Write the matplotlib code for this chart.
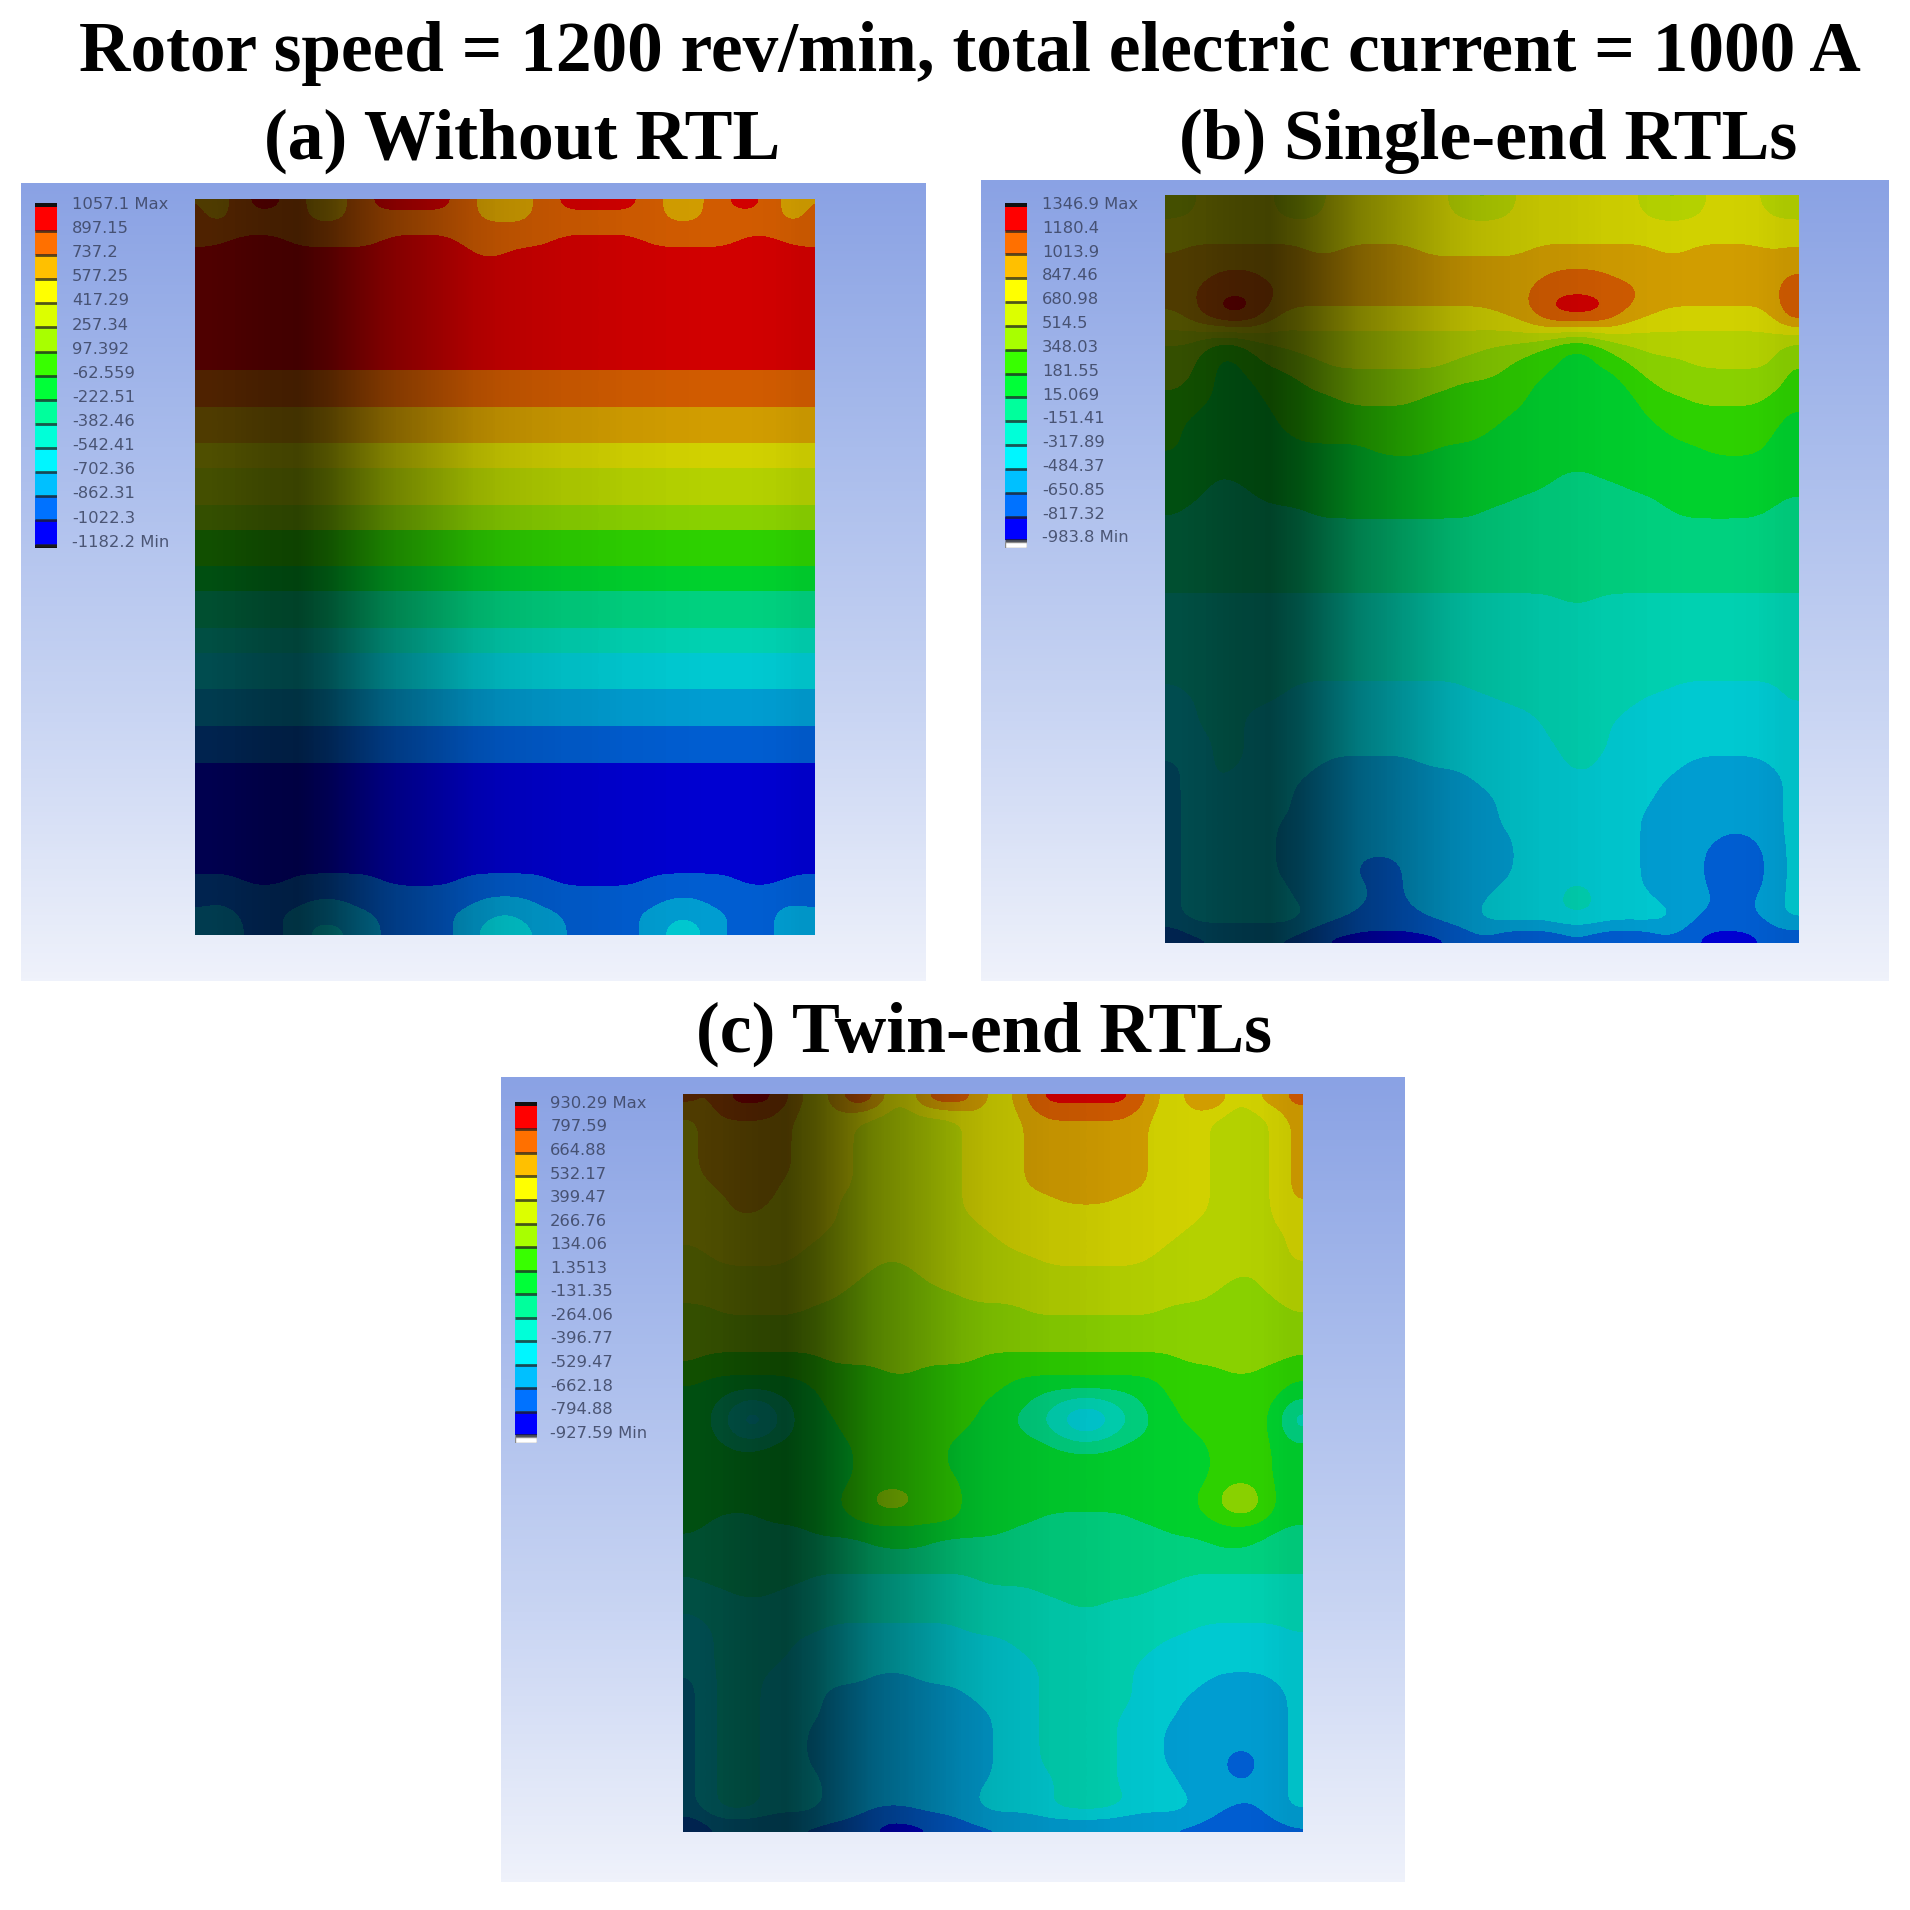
import numpy as np
import matplotlib
matplotlib.use("Agg")
import matplotlib.pyplot as plt
from matplotlib.colors import ListedColormap, BoundaryNorm, LinearSegmentedColormap

main_title = "Rotor speed = 1200 rev/min, total electric current = 1000 A"
titles = ["(a) Without RTL", "(b) Single-end RTLs", "(c) Twin-end RTLs"]

labels_a = ["1057.1 Max", "897.15", "737.2", "577.25", "417.29", "257.34", "97.392", "-62.559",
            "-222.51", "-382.46", "-542.41", "-702.36", "-862.31", "-1022.3", "-1182.2 Min"]
labels_b = ["1346.9 Max", "1180.4", "1013.9", "847.46", "680.98", "514.5", "348.03", "181.55",
            "15.069", "-151.41", "-317.89", "-484.37", "-650.85", "-817.32", "-983.8 Min"]
labels_c = ["930.29 Max", "797.59", "664.88", "532.17", "399.47", "266.76", "134.06", "1.3513",
            "-131.35", "-264.06", "-396.77", "-529.47", "-662.18", "-794.88", "-927.59 Min"]
levels_a = [1057.1, 897.15, 737.2, 577.25, 417.29, 257.34, 97.392, -62.559,
            -222.51, -382.46, -542.41, -702.36, -862.31, -1022.3, -1182.2]
levels_b = [1346.9, 1180.4, 1013.9, 847.46, 680.98, 514.5, 348.03, 181.55,
            15.069, -151.41, -317.89, -484.37, -650.85, -817.32, -983.8]
levels_c = [930.29, 797.59, 664.88, 532.17, 399.47, 266.76, 134.06, 1.3513,
            -131.35, -264.06, -396.77, -529.47, -662.18, -794.88, -927.59]

# colours from lowest band to highest band
band_colors = ["#0000ff", "#0072ff", "#00c0ff", "#00f6ff", "#00ffd8", "#00ff9c", "#00ff38",
               "#38ff00", "#a8ff00", "#dcff00", "#ffff00", "#ffc000", "#ff7000", "#ff0000"]

# brightness of the surface across its width
surface_light = [.31, .29, .27, .26, .32, .41, .50, .56, .62, .68, .72, .74, .76, .77, .79, .80,
                 .81, .82, .82, .81, .78]

# Band read at each cell, row by row from the top: band character + run length (0-9,a,b,c,d = low..high)
rows_a = (["c a c d3 c b3 c d6 c b4 c d6 c b3 c d3 c a c",
           "c a c5 b3 c8 b4 c8 b3 c5 a c",
           "c40",
           "c2 d4 c6 d5 c6 d6 c6 d3 c2",
           "d18 c2 d20"] + ["d40"] * 9 + ["c40"] * 3 + ["b40"] * 3 + ["a40"] * 2 + ["940"] * 3 +
          ["840"] * 2 + ["740"] * 3 + ["640"] * 2 + ["540"] * 3 + ["440"] * 2 + ["340"] * 3 +
          ["240"] * 3 + ["140"] * 3 + ["040"] * 9 +
          ["13 03 16 05 16 06 16 03 12",
           "140",
           "1 2 15 23 18 24 18 23 15 2 1",
           "23 12 27 14 23 32 23 14 23 3 23 12 23",
           "2 3 2 13 2 33 22 15 2 34 22 15 2 33 2 14 3 2"])

rows_b = ["92 a5 9 8 9 a8 9 82 9 a8 9 82 9 a4 8 9",
          "92 a5 93 a8 94 a8 94 a4 92",
          "a40",
          "a40",
          "a b8 a2 b5 a7 b8 a2 b5 a b",
          "b40",
          "b3 c3 b18 c4 b11 c",
          "b2 c5 b16 c7 b9 c",
          "b2 c d3 c b16 c d4 c2 b9 d",
          "a b c d3 b a14 b2 c d4 c b2 a8 d",
          "a2 b c3 a17 b c4 b a10 c",
          "92 8 72 8 918 8 72 8 911 8",
          "83 6 7 83 912 83 72 62 7 82 99 8",
          "82 7 62 7 84 98 84 73 62 72 84 96 7",
          "82 7 62 73 813 73 65 7 88 8 7",
          "8 72 63 73 89 75 66 72 88 7",
          "73 63 75 85 76 7 67 73 85 72",
          "72 65 715 68 79 6",
          "7 66 714 610 78 6",
          "7 67 712 612 76 62",
          "7 612 74 617 74 62",
          "640",
          "63 5 621 52 613",
          "63 52 619 55 611",
          "62 54 616 59 68 5",
          "6 58 611 512 66 52",
          "540", "540", "540", "540", "540", "540",
          "425 52 413",
          "440", "440", "440", "440", "440", "440",
          "3 47 311 413 37 4",
          "32 45 314 49 39 4",
          "32 43 318 46 311",
          "32 43 319 44 312",
          "33 42 319 44 312",
          "33 42 320 43 312",
          "2 32 42 35 26 39 42 36 25 32",
          "2 32 4 35 210 37 4 35 27 3",
          "2 32 4 34 212 311 28 3",
          "2 37 213 310 28 3",
          "2 37 213 39 29 3",
          "2 36 214 39 29 3",
          "2 36 215 38 25 12 22 3",
          "2 36 215 38 24 14 2 3",
          "2 36 25 13 27 38 24 14 2 3",
          "2 36 25 13 27 38 24 14 2 3",
          "2 37 25 12 26 34 42 33 24 14 2 3",
          "2 37 25 12 25 35 42 34 24 12 22 3",
          "2 38 23 14 24 35 42 35 22 13 22 3",
          "2 38 22 16 22 314 15 2 3",
          "0 18 010 12 04 12 04 12 05 1 0"]

rows_c = ["d a d5 a3 d3 92 d4 a3 d8 a3 d2 92 d a d",
          "a b c4 b a5 96 a4 b c6 b a4 94 a b",
          "a b6 a4 97 a4 b8 a4 94 a b",
          "a b6 a4 97 a4 b8 a4 94 a b",
          "a b6 a4 97 a4 b8 a4 94 a b",
          "a b6 a4 97 a4 b8 a4 94 a b",
          "a b6 a4 97 a4 b8 a4 94 a b",
          "a2 b4 a5 97 a4 b8 a4 94 a b",
          "a3 b3 a4 98 a6 b4 a6 94 a b",
          "a3 b2 a5 98 a16 94 a2",
          "a10 99 a14 95 a2",
          "a9 911 a12 97 a",
          "9 a7 913 a10 98 a",
          "92 a5 96 8 99 a7 99 a",
          "912 83 921 8 93",
          "911 85 919 82 93",
          "910 88 916 84 92",
          "82 96 814 99 88 9",
          "840", "840", "840",
          "8 78 810 713 87 7",
          "713 82 720 82 73",
          "7 67 713 610 78 6",
          "63 53 63 711 63 56 62 78 6",
          "62 5 4 3 4 5 62 710 63 52 4 32 4 52 62 76 6 4",
          "62 5 3 2 3 5 63 79 62 52 4 3 22 3 4 5 62 76 6 3",
          "62 5 4 3 4 5 63 78 64 52 4 32 4 52 63 75 6 4",
          "63 52 66 76 67 54 66 74 62",
          "611 76 617 74 62",
          "611 76 617 74 62",
          "611 77 616 74 62",
          "610 72 83 73 615 72 92 7 62",
          "610 72 83 73 615 72 92 7 62",
          "62 53 66 77 65 56 65 74 62",
          "6 57 613 510 67 52",
          "512 64 518 63 53",
          "540", "540",
          "4 57 411 513 48",
          "43 53 417 57 410",
          "425 52 413",
          "3 439",
          "32 47 39 415 36 4",
          "32 45 314 410 39 4",
          "32 45 315 48 310",
          "32 44 317 46 311",
          "2 3 43 37 23 38 46 35 24 32",
          "2 3 43 34 29 35 46 34 26 3",
          "2 3 43 34 210 34 46 33 27 3",
          "2 3 43 34 211 33 45 34 27 3",
          "2 3 43 33 212 33 45 33 28 3",
          "2 3 43 33 212 33 45 33 28 3",
          "2 3 43 33 212 33 45 33 24 12 22 3",
          "2 3 43 33 212 33 45 33 24 12 22 3",
          "2 3 43 34 211 34 44 34 23 12 22 3",
          "2 3 43 34 210 35 44 34 27 3",
          "2 3 43 34 210 35 45 34 23 1 22 3",
          "2 3 43 34 23 13 24 34 45 35 22 12 22 3",
          "0 111 05 118 02 13"]

W = H = 1910
N_COLS = 40
fig = plt.figure(figsize=(W / 100, H / 100), dpi=100, facecolor="white")


def px_axes(x0, y0, x1, y1):
    ax = fig.add_axes([x0 / W, 1 - y1 / H, (x1 - x0) / W, (y1 - y0) / H])
    ax.set_axis_off()
    return ax


def decode(rows):
    out = []
    for row in rows:
        cells = []
        for tok in row.split():
            cells += [int(tok[0], 16)] * (int(tok[1:]) if len(tok) > 1 else 1)
        out.append((cells + cells[-1:] * N_COLS)[:N_COLS])
    return np.array(out)


def soften(a):
    """Round off the stair-steps left by reading the field cell by cell."""
    p = np.pad(a, 1, mode="edge")
    p = (p[:-2, :] + 2 * p[1:-1, :] + p[2:, :]) / 4
    return (p[:, :-2] + 2 * p[:, 1:-1] + p[:, 2:]) / 4


bg_cmap = LinearSegmentedColormap.from_list("bg", ["#8aa2e4", "#a9bcec", "#c9d5f3", "#eff2fb"])
shade_cmap = LinearSegmentedColormap.from_list("shade", [(0, 0, 0, 0), (0, 0, 0, 1)])
band_cmap = ListedColormap(band_colors)


def panel(bg_box, field_box, legend_box, legend_x, rows, levels, labels, white_end):
    bg = px_axes(*bg_box)
    bg.imshow(np.linspace(0, 1, 256)[:, None], cmap=bg_cmap, aspect="auto", vmin=0, vmax=1)

    asc = np.array(levels[::-1])
    mids = (asc[:-1] + asc[1:]) / 2
    field = soften(mids[decode(rows)])
    ax = px_axes(*field_box)
    ax.imshow(field, cmap=band_cmap, norm=BoundaryNorm(asc, 14), aspect="auto",
              interpolation="bicubic", interpolation_stage="data", extent=(0, 1, 1, 0))
    ax.imshow(1 - np.array(surface_light)[None, :], cmap=shade_cmap, vmin=0, vmax=1,
              aspect="auto", interpolation="bilinear", extent=(0, 1, 1, 0))
    ax.set_xlim(0, 1)
    ax.set_ylim(1, 0)

    lg = px_axes(*legend_box)
    lg.set_xlim(0, 1)
    lg.set_ylim(14 + (0.32 if white_end else 0.14), -0.16)
    lg.barh(np.arange(14) + 0.5, 1, height=1, left=0, color=band_colors[::-1], edgecolor="none")
    lg.barh(-0.08, 1, height=0.16, left=0, color="#101010")
    if white_end:
        lg.barh(14.2, 1, height=0.24, left=0, color="white", edgecolor="#8a8a8a", linewidth=1)
    else:
        lg.barh(14.07, 1, height=0.14, left=0, color="#101010")
    lg.hlines(np.arange(1, 15), 0, 1, color="#202020", lw=2, alpha=0.75)
    for i, t in enumerate(labels):
        lg.text(legend_x, i - 0.1, t, color="#39425f", fontsize=11.8, va="center", ha="left",
                family="DejaVu Sans", clip_on=False, alpha=0.85)


panel((21, 183, 925, 981), (195, 199, 814, 935), (35, 203, 57, 548), 1.68, rows_a, levels_a, labels_a, False)
panel((981, 180, 1889, 981), (1165, 195, 1798, 943), (1005, 203, 1027, 548), 1.68, rows_b, levels_b, labels_b, True)
panel((501, 1077, 1404, 1882), (683, 1094, 1302, 1832), (515, 1102, 537, 1443), 1.6, rows_c, levels_c, labels_c, True)

serif = "Liberation Serif"
fig.text(970 / W, 1 - 53 / H, main_title, family=serif, weight="bold", fontsize=51.3, ha="center", va="center")
fig.text(522 / W, 1 - 141 / H, titles[0], family=serif, weight="bold", fontsize=51.6, ha="center", va="center")
fig.text(1488 / W, 1 - 141 / H, titles[1], family=serif, weight="bold", fontsize=51.6, ha="center", va="center")
fig.text(984 / W, 1 - 1034 / H, titles[2], family=serif, weight="bold", fontsize=51.6, ha="center", va="center")

fig.savefig("out.png", dpi=100)
